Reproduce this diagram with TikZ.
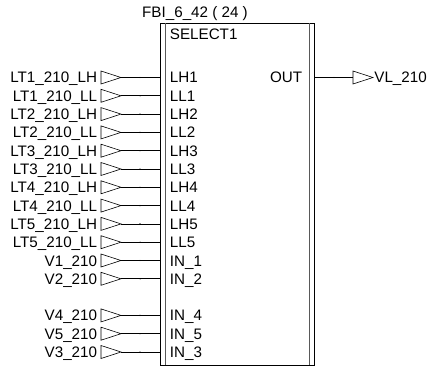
\documentclass[tikz,border=0pt]{standalone}
\usepackage{fontspec}
\setmainfont{Liberation Sans}
\usetikzlibrary{positioning,shapes.geometric}

\begin{document}
\begin{tikzpicture}[x=1pt, y=-1pt, line width=0.8pt, font=\fontsize{15.2}{18}\selectfont,
    pin/.style={draw, isosceles triangle, isosceles triangle stretches, shape border rotate=0,
      minimum height=20pt, minimum width=13pt, inner sep=0pt, outer sep=0pt, anchor=apex, line width=0.6pt},
    tag/.style={inner sep=0pt, anchor=base east},
    port/.style={inner sep=0pt, anchor=base west}]
  \useasboundingbox (0,0) rectangle (430,366);

  \node[draw, minimum width=153.5pt, minimum height=341.5pt, inner sep=0pt, outer sep=0pt, anchor=north west] (block) at (160.5,23.5) {};
  \draw[line width=1.4pt, black!65] (165.5,23.5) -- (165.5,365);
  \draw[line width=1.4pt, black!65] (309.5,23.5) -- (309.5,365);

  \node[inner sep=0pt, anchor=base] (title) at (195,17.5) {FBI\_6\_42 ( 24 )};
  \node[port] (name) at (169.5,40) {SELECT1};

  % inputs
  \foreach \i/\tagtext/\porttext/\y in {
      1/LT1\_210\_LH/LH1/77.5, 2/LT1\_210\_LL/LL1/95.8,
      3/LT2\_210\_LH/LH2/114.1, 4/LT2\_210\_LL/LL2/132.4,
      5/LT3\_210\_LH/LH3/150.7, 6/LT3\_210\_LL/LL3/169,
      7/LT4\_210\_LH/LH4/187.3, 8/LT4\_210\_LL/LL4/205.6,
      9/LT5\_210\_LH/LH5/223.9, 10/LT5\_210\_LL/LL5/242.2,
      11/V1\_210/IN\_1/260.5, 12/V2\_210/IN\_2/278.8,
      13/V4\_210/IN\_4/315.4, 14/V5\_210/IN\_5/333.7,
      15/V3\_210/IN\_3/352} {
    \node[pin] (pin\i) at (121,\y) {};
    \node[tag] (tag\i) at (97.5,\y+5.5) {\tagtext};
    \node[port] (port\i) at (169.5,\y+5.5) {\porttext};
    \draw (pin\i.apex) -- (block.west |- pin\i.apex);
    \fill (140,\y) circle (0.7pt);
  }

  % output
  \node[port, anchor=base east] (portout) at (302.5,83) {OUT};
  \node[pin] (pinout) at (373,77.5) {};
  \node[port] (tagout) at (374,83) {VL\_210};
  \draw (block.east |- pinout.lower side) -- (pinout.lower side);
  \fill (334,77.5) circle (0.7pt);
\end{tikzpicture}
\end{document}
